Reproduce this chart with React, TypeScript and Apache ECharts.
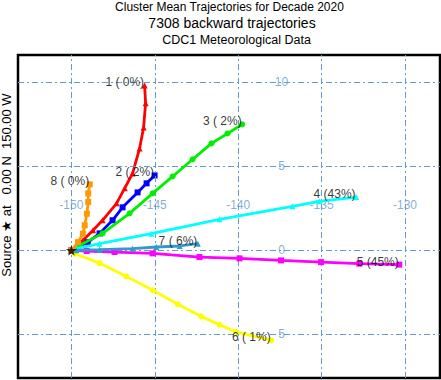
import React, { useEffect, useRef } from "react";
import * as echarts from "echarts";

const lonTicks = [-150, -145, -140, -135, -130];
const latTicks = [10, 5, 0, -5];
const lonTickLabels = ["-150", "-145", "-140", "-135", "-130"];
const latTickLabels = ["10", "5", "0", "5"];
const lonLabelLat = 2.7;
const latLabelLon = -137.4;

const titleLines = [
  "Cluster Mean Trajectories for Decade 2020",
  "7308 backward trajectories",
  "CDC1 Meteorological Data",
];
const sourceLabel = "Source \u2605 at   0.00 N  150.00 W";
const source: [number, number] = [-150, 0];

const clusterNames = ["1 ( 0%)", "2 ( 2%)", "3 ( 2%)", "4 (43%)", "5 (45%)", "6 ( 1%)", "7 ( 6%)", "8 ( 0%)"];
const clusterColors = ["#ff0000", "#0000ff", "#00ee00", "#00ffff", "#ff00ff", "#ffff00", "#3399cc", "#ff9900"];
const clusterSymbols = ["triangle", "rect", "circle", "triangle", "rect", "circle", "triangle", "rect"];

const traj1: [number, number][] = [
  [-150, 0], [-149.3, 0.6], [-148.7, 1.2], [-148.13, 1.79], [-147.29, 2.8], [-146.8, 3.7], [-146.33, 4.58],
  [-145.91, 6.07], [-145.67, 7.32], [-145.55, 8.75], [-145.61, 9.82],
];
const traj2: [number, number][] = [
  [-150, 0], [-149.02, 0.48], [-148.31, 1.01], [-147.53, 1.79], [-146.93, 2.56], [-146.03, 3.45], [-145.49, 3.99], [-145.01, 4.46],
];
const traj3: [number, number][] = [
  [-150, 0], [-149.5, 0.3], [-148.13, 1.01], [-146.51, 2.2], [-145.13, 3.39], [-143.93, 4.4], [-142.73, 5.42],
  [-141.6, 6.37], [-140.64, 6.96], [-139.76, 7.5],
];
const traj4: [number, number][] = [
  [-150, 0], [-149.7, 0.1], [-148.31, 0.4], [-145.21, 0.99], [-141.12, 1.85], [-136.75, 2.62], [-135.13, 2.92], [-132.93, 3.17],
];
const traj5: [number, number][] = [
  [-150, 0], [-149.08, -0.04], [-147.41, -0.1], [-145.13, -0.18], [-142.32, -0.4], [-139.92, -0.48], [-137.43, -0.6],
  [-135.03, -0.7], [-132.74, -0.79], [-130.34, -0.85],
];
const traj6: [number, number][] = [
  [-150, 0], [-149.8, -0.2], [-148.31, -0.76], [-146.71, -1.55], [-145.11, -2.38], [-143.62, -3.21], [-142.22, -3.93],
  [-141.12, -4.43], [-140.12, -4.86], [-138.02, -5.36],
];
const traj7: [number, number][] = [
  [-150, 0], [-149.7, 0], [-148.31, 0.04], [-146.33, 0.1], [-144.91, 0.2], [-143.51, 0.26], [-142.42, 0.4],
];
const traj8: [number, number][] = [
  [-150, 0], [-149.6, 0.49], [-149.31, 0.99], [-149.2, 1.49], [-149.07, 2.18], [-148.99, 2.88], [-148.99, 3.39], [-148.9, 3.93],
];
const trajectories = [traj1, traj2, traj3, traj4, traj5, traj6, traj7, traj8];

const FONT = "'Liberation Sans', Arial, Helvetica, sans-serif";
const GRID_COLOR = "#6699cc";
const STAR = "path://M50,0 L61,35 L98,35 L68,57 L79,91 L50,70 L21,91 L32,57 L2,35 L39,35 Z";

export default function App() {
  const ref = useRef<HTMLDivElement>(null);
  useEffect(() => {
    if (!ref.current) return;
    const chart = echarts.init(ref.current, null, { renderer: "svg" });

    const trajSeries = trajectories.map((t, i) => ({
      type: "line",
      data: t,
      symbol: clusterSymbols[i],
      symbolSize: 6,
      showSymbol: true,
      showAllSymbol: true,
      lineStyle: { color: clusterColors[i], width: 2.8 },
      itemStyle: { color: clusterColors[i] },
      z: 3 + i,
      silent: true,
    }));

    const option: any = {
      animation: false,
      backgroundColor: "#ffffff",
      grid: {
        left: 18, top: 55, width: 422, height: 323,
        show: true, borderColor: "#000", borderWidth: 2.5, backgroundColor: "transparent",
      },
      xAxis: { type: "value", min: -153.2, max: -127.9, show: false, splitLine: { show: false } },
      yAxis: { type: "value", min: -7.6, max: 11.63, show: false, splitLine: { show: false } },
      graphic: [
        { type: "text", x: 229.5, y: 6.5, style: { text: titleLines[0], font: `12px ${FONT}`, fill: "#000", textAlign: "center", textVerticalAlign: "middle" } },
        { type: "text", x: 232, y: 22.5, style: { text: titleLines[1], font: `14px ${FONT}`, fill: "#000", textAlign: "center", textVerticalAlign: "middle" } },
        { type: "text", x: 236.5, y: 39.5, style: { text: titleLines[2], font: `12.5px ${FONT}`, fill: "#000", textAlign: "center", textVerticalAlign: "middle" } },
        { type: "text", x: 6, y: 185, rotation: Math.PI / 2, style: { text: sourceLabel, font: `13px ${FONT}`, fill: "#000", textAlign: "center", textVerticalAlign: "middle" } },
      ],
      series: [
        {
          type: "scatter",
          data: [
            ...lonTicks.map((v, i) => ({ value: [v, lonLabelLat], name: lonTickLabels[i] })),
            ...latTicks.map((v, i) => ({ value: [latLabelLon, v], name: latTickLabels[i] })),
          ],
          symbolSize: 1,
          itemStyle: { color: "rgba(0,0,0,0)" },
          label: { show: true, position: "inside", formatter: "{b}", color: GRID_COLOR, fontSize: 12, fontFamily: FONT },
          silent: true,
          z: 2,
          markLine: {
            silent: true,
            symbol: "none",
            label: { show: false },
            lineStyle: { color: GRID_COLOR, width: 1, type: [6, 3, 2, 3], opacity: 1 },
            data: [
              ...lonTicks.map((v) => ({ xAxis: v })),
              ...latTicks.map((v) => ({ yAxis: v })),
            ],
          },
        },
        ...trajSeries,
        {
          type: "scatter",
          data: trajectories.map((t, i) => ({ value: t[t.length - 1], name: clusterNames[i] })),
          symbolSize: 1,
          itemStyle: { color: "rgba(0,0,0,0)" },
          label: { show: true, position: "left", distance: 0, offset: [0, -3], formatter: "{b}", color: "#000", fontSize: 12, fontFamily: FONT },
          silent: true,
          z: 20,
        },
        {
          type: "scatter",
          data: [source],
          symbol: STAR,
          symbolSize: 11,
          itemStyle: { color: "#000" },
          silent: true,
          z: 21,
        },
      ],
    };
    chart.setOption(option);
    return () => chart.dispose();
  }, []);
  return <div ref={ref} style={{ position: "absolute", left: 0, top: 0, width: 441, height: 380 }} />;
}
